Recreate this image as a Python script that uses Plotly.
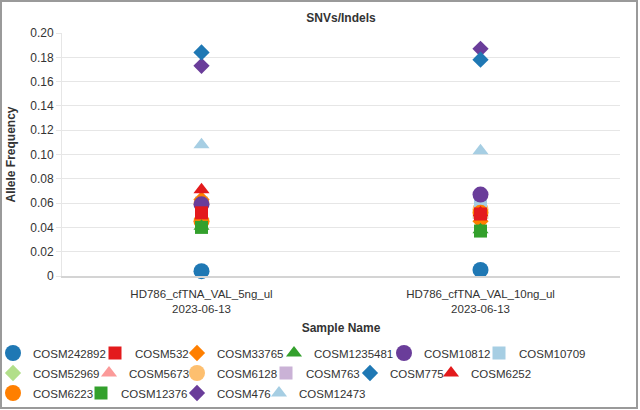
import plotly.graph_objects as go

# ---------------- data ----------------
samples = ["HD786_cfTNA_VAL_5ng_ul<br>2023-06-13", "HD786_cfTNA_VAL_10ng_ul<br>2023-06-13"]
mutations = ["COSM242892", "COSM532", "COSM33765", "COSM1235481", "COSM10812", "COSM10709",
             "COSM52969", "COSM5673", "COSM6128", "COSM763", "COSM775", "COSM6252",
             "COSM6223", "COSM12376", "COSM476", "COSM12473"]
af_5ng = [0.004, 0.052, 0.063, 0.041, 0.059, 0.060,
          0.047, 0.048, 0.060, 0.048, 0.184, 0.071,
          0.045, 0.040, 0.173, 0.108]
af_10ng = [0.005, 0.051, 0.045, 0.038, 0.067, 0.059,
           0.048, 0.050, 0.055, 0.052, 0.178, 0.052,
           0.052, 0.037, 0.187, 0.103]
y_tickvals = [0, 0.02, 0.04, 0.06, 0.08, 0.10, 0.12, 0.14, 0.16, 0.18, 0.20]
y_ticktext = ["0", "0.02", "0.04", "0.06", "0.08", "0.10", "0.12", "0.14", "0.16", "0.18", "0.20"]

# ---------------- style ----------------
colors = ["#1f78b4", "#e31a1c", "#ff7f00", "#33a02c", "#6a3d9a", "#a6cee3",
          "#b2df8a", "#fb9a99", "#fdbf6f", "#cab2d6", "#1f78b4", "#e31a1c",
          "#ff7f00", "#33a02c", "#6a3d9a", "#a6cee3"]
symbols = ["circle", "square", "diamond", "triangle-up", "circle", "square",
           "diamond", "triangle-up", "circle", "square", "diamond", "triangle-up",
           "circle", "square", "diamond", "triangle-up"]
sym_size = {"circle": 16, "square": 13, "diamond": 12.5, "triangle-up": 14}
legend_of = ["legend"] * 6 + ["legend2"] * 6 + ["legend3"] * 4
# per-entry widths so the legend text lands where the reference puts it
legend_w = [57, 37, 52, 65, 50, 80,
            51, 43, 44, 39, 36, 80,
            43, 51, 37, 80]
# stacking order of the overlapping markers (bottom first); legend keeps the list order
draw_order = [14, 10, 15, 0, 6, 7, 9, 8, 5, 2, 12, 11, 4, 1, 3, 13]

W, H = 640, 410
ML, MR, MT, MB = 62, 20, 33, 134
PW, PH = W - ML - MR, H - MT - MB

FONT = "Liberation Sans, Arial, sans-serif"
TXT = "#333333"

fig = go.Figure()
for i in draw_order:
    fig.add_trace(go.Scatter(
        x=samples, y=[af_5ng[i], af_10ng[i]], mode="markers", name=mutations[i],
        marker=dict(symbol=symbols[i], color=colors[i], size=sym_size[symbols[i]], line=dict(width=0)),
        cliponaxis=False, legend=legend_of[i], legendwidth=legend_w[i], legendrank=i + 1,
    ))

def px_x(p):
    return (p - ML) / PW

def px_y(p):
    return (H - MB - p) / PH

legend_common = dict(orientation="h", xref="paper", yref="paper", xanchor="left", yanchor="middle",
                     x=px_x(-7), font=dict(family=FONT, size=11.5, color=TXT),
                     bgcolor="rgba(0,0,0,0)", itemsizing="trace", tracegroupgap=0,
                     traceorder="normal")

fig.update_layout(
    width=W, height=H, autosize=False,
    margin=dict(l=ML, r=MR, t=MT, b=MB, autoexpand=False),
    paper_bgcolor="white", plot_bgcolor="white",
    font=dict(family=FONT, size=12, color=TXT),
    title=dict(text="<b>SNVs/Indels</b>", x=0.5, xref="paper", xanchor="center",
               y=1 - 18 / H, yref="container", yanchor="middle",
               font=dict(family=FONT, size=12, color=TXT)),
    showlegend=True,
    legend=dict(legend_common, y=px_y(353)),
    legend2=dict(legend_common, y=px_y(373)),
    legend3=dict(legend_common, y=px_y(393)),
    xaxis=dict(type="category", range=[-0.5, 1.5], showgrid=False, zeroline=False,
               showline=True, linecolor="#d4d4d4", linewidth=2, ticks="",
               ticklabelstandoff=6,
               tickfont=dict(family=FONT, size=11.5, color=TXT),
               title=dict(text="<b>Sample Name</b>", font=dict(family=FONT, size=12, color=TXT), standoff=10)),
    yaxis=dict(range=[0, 0.2], tickvals=y_tickvals, ticktext=y_ticktext,
               showgrid=True, gridcolor="#e6e6e6", gridwidth=1, zeroline=False,
               showline=True, linecolor="#e6e6e6", linewidth=1,
               ticks="outside", ticklen=5, tickcolor="#e6e6e6",
               tickfont=dict(family=FONT, size=12, color=TXT),
               title=dict(text="<b>Allele Frequency</b>", font=dict(family=FONT, size=12, color=TXT), standoff=12)),
    shapes=[dict(type="rect", xref="paper", yref="paper",
                 x0=px_x(1), x1=px_x(W - 3), y0=px_y(H - 2), y1=px_y(1),
                 line=dict(color="#9a9a9a", width=2), fillcolor="rgba(0,0,0,0)", layer="below")],
)

fig.write_html("out.html")
